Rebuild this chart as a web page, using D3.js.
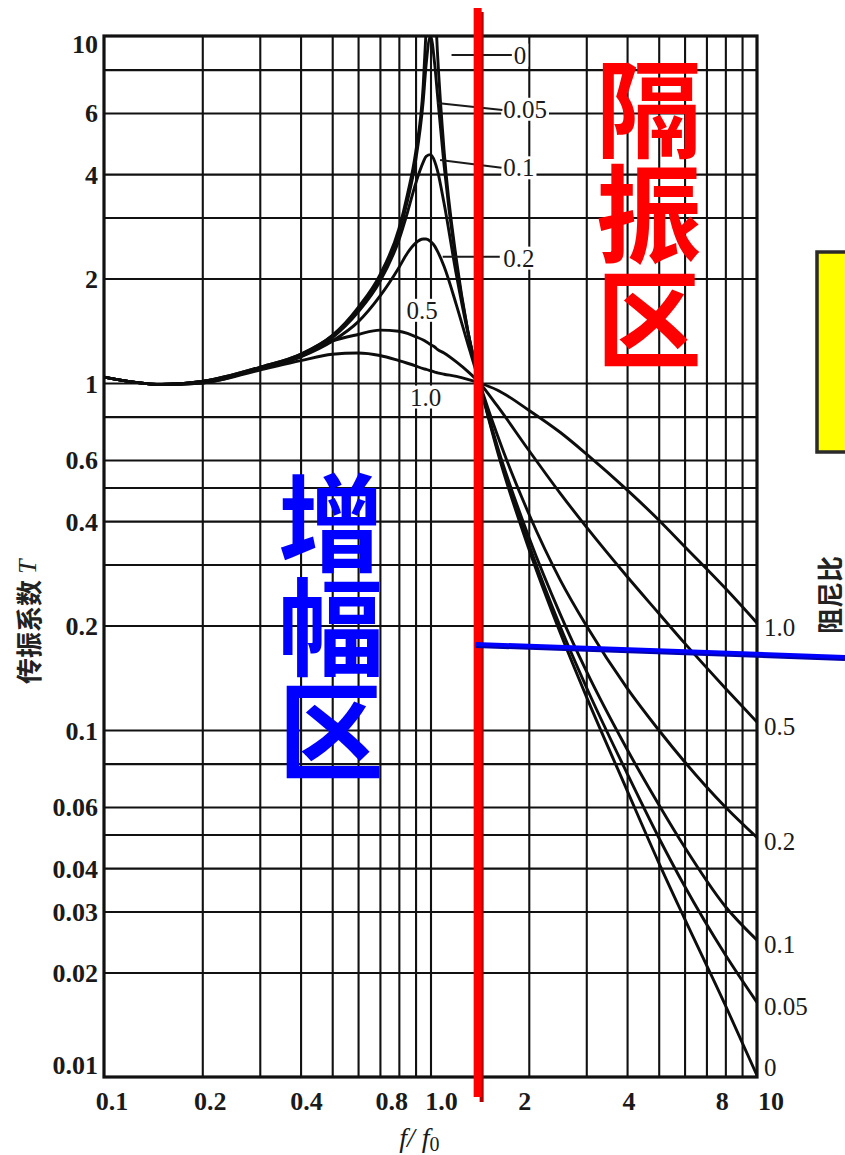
<!DOCTYPE html>
<html>
<head>
<meta charset="utf-8">
<script src="https://cdn.jsdelivr.net/npm/d3@7"></script>
<style>
  html, body { margin: 0; padding: 0; background: #fff; }
  svg { display: block; }
</style>
</head>
<body>
<svg id="chart" width="845" height="1155"></svg>
<script>
// Frequency ratio f/f0 at which the transmissibility curves are sampled
const freqRatio = [0.1, 0.15, 0.2, 0.3, 0.4, 0.5, 0.6, 0.7, 0.8, 0.85, 0.9, 0.95, 0.97, 1.0, 1.03, 1.05, 1.1, 1.2, 1.3, 1.414, 1.6, 2, 2.5, 3, 4, 5, 6, 8, 10];

// Transmissibility T for each damping ratio (null = unbounded at resonance)
const transZeta0   = [1.04, 0.99, 1.01, 1.11, 1.21, 1.37, 1.65, 2.05, 2.78, 3.5, 4.6, 7.2, 10.5, null, 13, 9.0, 4.7, 2.27, 1.42, 1.0, 0.64, 0.333, 0.19, 0.125, 0.067, 0.0415, 0.0286, 0.0161, 0.0101];
const transZeta005 = [1.04, 0.99, 1.01, 1.11, 1.21, 1.37, 1.63, 2.01, 2.7, 3.35, 4.35, 6.5, 8.3, 10.0, 8.3, 6.8, 4.25, 2.2, 1.42, 1.0, 0.65, 0.343, 0.198, 0.133, 0.075, 0.049, 0.0355, 0.0225, 0.0164];
const transZeta01  = [1.04, 0.99, 1.01, 1.1, 1.2, 1.35, 1.6, 1.96, 2.58, 3.1, 3.75, 4.33, 4.5, 4.55, 4.35, 4.1, 3.3, 2.05, 1.4, 1.0, 0.66, 0.36, 0.215, 0.148, 0.088, 0.061, 0.046, 0.031, 0.0248];
const transZeta02  = [1.04, 0.99, 1.01, 1.1, 1.19, 1.32, 1.5, 1.78, 2.15, 2.37, 2.53, 2.6, 2.6, 2.56, 2.48, 2.4, 2.17, 1.68, 1.3, 1.0, 0.71, 0.42, 0.27, 0.2, 0.132, 0.1, 0.081, 0.06, 0.049];
const transZeta05  = [1.04, 0.99, 1.0, 1.1, 1.19, 1.32, 1.38, 1.42, 1.41, 1.39, 1.36, 1.33, 1.315, 1.29, 1.27, 1.25, 1.22, 1.15, 1.08, 1.0, 0.86, 0.64, 0.48, 0.385, 0.277, 0.217, 0.178, 0.132, 0.1054];
const transZeta1   = [1.04, 0.99, 1.0, 1.09, 1.16, 1.21, 1.22, 1.2, 1.16, 1.14, 1.12, 1.1, 1.095, 1.085, 1.075, 1.07, 1.06, 1.045, 1.025, 1.0, 0.955, 0.835, 0.72, 0.625, 0.492, 0.403, 0.338, 0.256, 0.2034];

const dampingLabels = ["0", "0.05", "0.1", "0.2", "0.5", "1.0"];
const dampingSeries = [transZeta0, transZeta005, transZeta01, transZeta02, transZeta05, transZeta1];

// Grid and tick labels
const xGridValues = [0.2, 0.3, 0.4, 0.5, 0.6, 0.7, 0.8, 0.9, 1, 2, 3, 4, 5, 6, 7, 8, 9];
const yGridValues = [8, 6, 4, 3, 2, 1, 0.8, 0.6, 0.5, 0.4, 0.3, 0.2, 0.1, 0.08, 0.06, 0.05, 0.04, 0.03, 0.02];
const xTickValues = [0.1, 0.2, 0.4, 0.8, 1, 2, 4, 8, 10];
const xTickLabels = ["0.1", "0.2", "0.4", "0.8", "1.0", "2", "4", "8", "10"];
const yTickValues = [10, 6, 4, 2, 1, 0.6, 0.4, 0.2, 0.1, 0.06, 0.04, 0.03, 0.02, 0.01];
const yTickLabels = ["10", "6", "4", "2", "1", "0.6", "0.4", "0.2", "0.1", "0.06", "0.04", "0.03", "0.02", "0.01"];

const W = 845, H = 1155;
const plot = { left: 104, right: 757, top: 36, bottom: 1077 };

const x = d3.scaleLog().domain([0.1, 10]).range([plot.left, plot.right]);
const y = d3.scaleLog().domain([0.01, 10]).range([plot.bottom, plot.top]);

const svg = d3.select("#chart");
svg.append("rect").attr("width", W).attr("height", H).attr("fill", "#fff");

svg.append("defs").append("clipPath").attr("id", "plotClip")
  .append("rect")
  .attr("x", plot.left).attr("y", plot.top)
  .attr("width", plot.right - plot.left).attr("height", plot.bottom - plot.top);

// ---- grid ----
const gx = svg.append("g")
  .attr("transform", `translate(0,${plot.bottom})`)
  .call(d3.axisBottom(x).tickValues(xGridValues).tickSize(-(plot.bottom - plot.top)).tickFormat(""));
gx.select(".domain").remove();
gx.selectAll("line").attr("stroke", "#111").attr("stroke-width", 2.1);

const gy = svg.append("g")
  .attr("transform", `translate(${plot.left},0)`)
  .call(d3.axisLeft(y).tickValues(yGridValues).tickSize(-(plot.right - plot.left)).tickFormat(""));
gy.select(".domain").remove();
gy.selectAll("line").attr("stroke", "#111").attr("stroke-width", 2.1);

svg.append("rect")
  .attr("x", plot.left).attr("y", plot.top)
  .attr("width", plot.right - plot.left).attr("height", plot.bottom - plot.top)
  .attr("fill", "none").attr("stroke", "#111").attr("stroke-width", 3.2);

// ---- transmissibility curves ----
const line = d3.line()
  .defined(d => d[1] != null)
  .x(d => x(d[0]))
  .y(d => y(d[1]))
  .curve(d3.curveMonotoneX);

svg.append("g").attr("clip-path", "url(#plotClip)")
  .selectAll("path")
  .data(dampingSeries)
  .join("path")
  .attr("d", vals => line(freqRatio.map((f, i) => [f, vals[i]])))
  .attr("fill", "none")
  .attr("stroke", "#0d0d0d")
  .attr("stroke-width", 2.9)
  .attr("stroke-linejoin", "round");

// ---- helpers ----
const serif = "'Liberation Serif', 'DejaVu Serif', serif";
function label(g, txt, px, py, opt = {}) {
  const t = g.append("text")
    .attr("x", px).attr("y", py)
    .attr("font-family", serif)
    .attr("font-size", opt.size || 25)
    .attr("font-weight", opt.weight || "normal")
    .attr("text-anchor", opt.anchor || "start")
    .attr("dominant-baseline", "central")
    .attr("fill", "#1a1a1a")
    .text(txt);
  if (opt.bg) {
    const b = t.node().getBBox();
    g.insert("rect", "text")
      .attr("x", b.x - 2).attr("y", b.y + 2)
      .attr("width", b.width + 4).attr("height", b.height - 4)
      .attr("fill", "#fff");
  }
  return t;
}

// ---- tick labels ----
const xNudge = { 0.1: 8, 0.2: 8, 0.4: 6, 0.8: -7, 1: 11, 2: -4, 4: 2, 8: -3, 10: 14 };
const gxl = svg.append("g");
xTickValues.forEach((v, i) => {
  label(gxl, xTickLabels[i], x(v) + xNudge[v], plot.bottom + 24, { anchor: "middle", weight: "bold", size: 26 });
});

const yNudge = { 10: 8, 0.01: -12 };
const gyl = svg.append("g");
yTickValues.forEach((v, i) => {
  label(gyl, yTickLabels[i], plot.left - 6, y(v) + (yNudge[v] || 1), { anchor: "end", weight: "bold", size: 26 });
});

// ---- damping ratio labels at the right edge ----
const gdr = svg.append("g");
dampingSeries.forEach((vals, i) => {
  const end = vals[vals.length - 1];
  const dy = dampingLabels[i] === "0" ? -8 : 4;
  label(gdr, dampingLabels[i], plot.right + 7, y(end) + dy, {});
});

// ---- peak tags with leader lines ----
const peakTags = [
  { txt: "0",    r0: 1.16,  t0: 8.81, r1: 1.78, t1: 8.81, tx: 1.80, ty: 8.81 },
  { txt: "0.05", r0: 1.047, t0: 6.41, r1: 1.66, t1: 6.12, tx: 1.67, ty: 6.15 },
  { txt: "0.1",  r0: 1.07,  t0: 4.39, r1: 1.65, t1: 4.17, tx: 1.67, ty: 4.17 },
  { txt: "0.2",  r0: 1.09,  t0: 2.31, r1: 1.63, t1: 2.31, tx: 1.67, ty: 2.29 }
];
const gpt = svg.append("g");
peakTags.forEach(p => {
  gpt.append("line")
    .attr("x1", x(p.r0)).attr("y1", y(p.t0))
    .attr("x2", x(p.r1)).attr("y2", y(p.t1))
    .attr("stroke", "#1a1a1a").attr("stroke-width", 2);
  label(gpt, p.txt, x(p.tx), y(p.ty), { bg: true });
});
label(gpt, "0.5", x(0.942), y(1.62), { anchor: "middle", bg: true });
label(gpt, "1.0", x(0.966), y(0.911), { anchor: "middle", bg: true });

// ---- axis titles ----
svg.append("text")
  .attr("x", x(0.925)).attr("y", H - 8)
  .attr("text-anchor", "middle")
  .attr("font-family", serif).attr("font-style", "italic").attr("font-size", 28)
  .attr("fill", "#1a1a1a")
  .call(t => {
    t.append("tspan").text("f/ f");
    t.append("tspan").attr("font-size", 20).attr("font-style", "normal").attr("dy", 4).text("0");
  });

const cjk = "'Noto Sans CJK SC', 'Noto Sans CJK JP', sans-serif";
svg.append("text")
  .attr("transform", `translate(27,${y(0.205)}) rotate(-90)`)
  .attr("text-anchor", "middle").attr("dominant-baseline", "central")
  .attr("font-family", cjk).attr("font-size", 26).attr("font-weight", "bold")
  .attr("fill", "#222")
  .call(t => {
    t.append("tspan").text("传振系数 ");
    t.append("tspan").attr("font-family", serif).attr("font-style", "italic").attr("font-weight", "normal").text("T");
  });

svg.append("text")
  .attr("transform", `translate(828,${y(0.245)}) rotate(-90)`)
  .attr("text-anchor", "middle").attr("dominant-baseline", "central")
  .attr("font-family", cjk).attr("font-size", 26).attr("font-weight", "bold")
  .attr("fill", "#222")
  .text("阻尼比");

// ---- isolation boundary at f/f0 = √2 ----
const xb = x(Math.SQRT2);
svg.append("line")
  .attr("x1", xb + 2).attr("x2", xb + 2)
  .attr("y1", plot.top - 24).attr("y2", plot.bottom + 25)
  .attr("stroke", "#b00000").attr("stroke-width", 4);
svg.append("line")
  .attr("x1", xb - 2).attr("x2", xb - 2)
  .attr("y1", plot.top - 28).attr("y2", plot.bottom + 20)
  .attr("stroke", "#ff0000").attr("stroke-width", 8);

// ---- pointer to the note box ----
const yp = y(0.177);
svg.append("line")
  .attr("x1", xb - 4).attr("y1", yp + 1.5)
  .attr("x2", W).attr("y2", yp + 14.5)
  .attr("stroke", "#0000b0").attr("stroke-width", 5);
svg.append("line")
  .attr("x1", xb - 4).attr("y1", yp)
  .attr("x2", W).attr("y2", yp + 13)
  .attr("stroke", "#0000ff").attr("stroke-width", 4);

// note box (continues past the right edge)
svg.append("rect")
  .attr("x", 817).attr("y", 252)
  .attr("width", 60).attr("height", 200)
  .attr("fill", "#ffff00").attr("stroke", "#2a2a2a").attr("stroke-width", 3.5);

// ---- region names, set vertically ----
const regionFont = 106;
svg.append("text")
  .attr("x", 649).attr("y", 213)
  .attr("writing-mode", "vertical-rl")
  .style("writing-mode", "vertical-rl")
  .attr("text-anchor", "middle")
  .attr("font-family", cjk).attr("font-size", regionFont).attr("font-weight", "bold")
  .attr("letter-spacing", -1)
  .attr("fill", "#ff0000")
  .text("隔振区");
svg.append("text")
  .attr("x", 331).attr("y", 626)
  .attr("writing-mode", "vertical-rl")
  .style("writing-mode", "vertical-rl")
  .attr("text-anchor", "middle")
  .attr("font-family", cjk).attr("font-size", regionFont).attr("font-weight", "bold")
  .attr("letter-spacing", -2)
  .attr("fill", "#0000ff")
  .text("增幅区");
</script>
</body>
</html>
